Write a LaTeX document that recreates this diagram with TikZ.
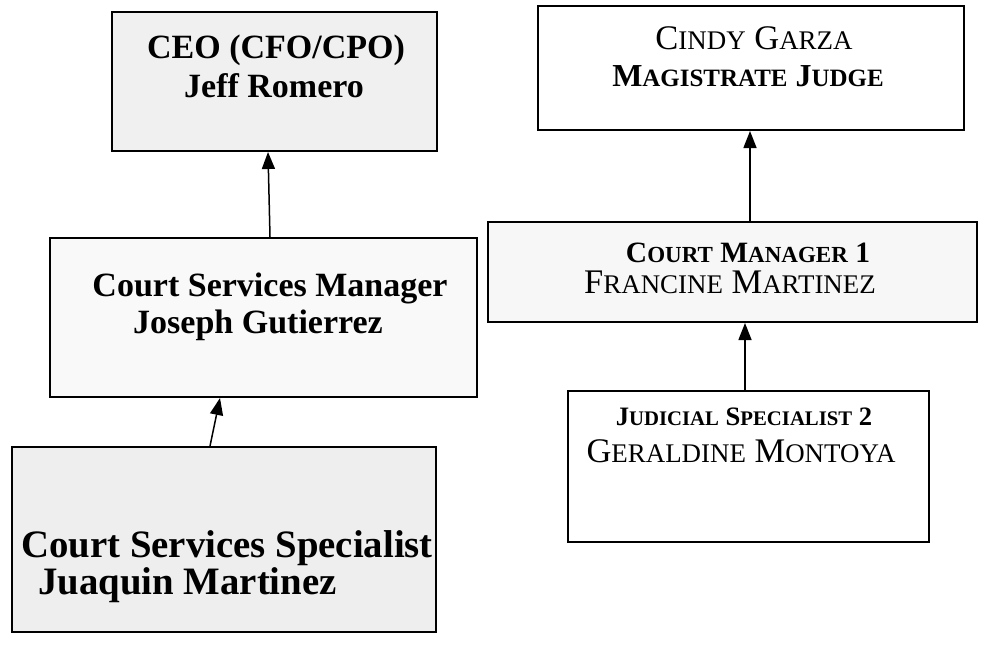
\documentclass[tikz,border=0pt]{standalone}
\usepackage{fontspec}
\setmainfont{Liberation Serif}
\usetikzlibrary{arrows.meta,calc}
\makeatletter
\newcommand\lc[1]{{\fontsize{\the\dimexpr 0.78\dimexpr\f@size pt\relax\relax}{\f@baselineskip}\selectfont #1}}
\makeatother
\tikzset{
  box/.style={draw=black, line width=2pt, rectangle, inner sep=0pt},
  ltxt/.style={anchor=base, inner sep=0pt, font=\fontsize{34}{38}\selectfont\bfseries},
  lbig/.style={anchor=base west, inner sep=0pt, font=\fontsize{38.8}{40}\selectfont\bfseries},
  rtxt/.style={anchor=base, inner sep=0pt, font=\fontsize{34.5}{38}\selectfont},
  rbold/.style={anchor=base, inner sep=0pt, font=\fontsize{32}{38}\selectfont\bfseries},
  rsmall/.style={anchor=base, inner sep=0pt, font=\fontsize{29.5}{38}\selectfont\bfseries},
  rsmaller/.style={anchor=base, inner sep=0pt, font=\fontsize{26.6}{38}\selectfont\bfseries},
  link/.style={line width=1.5pt, -{Triangle[length=17pt,width=13pt]}}
}
\begin{document}
\begin{tikzpicture}[x=1pt,y=-1pt]
\useasboundingbox (0,0) rectangle (984,649);
% left column
\node[box, fill=gray!12, minimum width=325pt, minimum height=139pt] (ceo) at (274.5,81.5) {};
\node[ltxt] (ceo1) at (276,58) {CEO (CFO/CPO)};
\node[ltxt] (ceo2) at (274,97) {Jeff Romero};
\node[box, fill=gray!5, minimum width=427pt, minimum height=159pt] (csm) at (263.5,317.5) {};
\node[ltxt] (csm1) at (270,296) {Court Services Manager};
\node[ltxt] (csm2) at (258,333) {Joseph Gutierrez};
\node[box, fill=gray!13, minimum width=424pt, minimum height=185pt] (css) at (224,539.5) {};
\node[lbig] (css1) at (21,557) {Court Services Specialist};
\node[lbig] (css2) at (38,594) {Juaquin Martinez};
% right column
\node[box, fill=white, minimum width=426pt, minimum height=124pt] (mj) at (751,68) {};
\node[rtxt] (mj1) at (754,49) {C\lc{INDY} G\lc{ARZA}};
\node[rbold] (mj2) at (748,86) {M\lc{AGISTRATE} J\lc{UDGE}};
\node[box, fill=gray!6, minimum width=489pt, minimum height=100pt] (cm) at (732.5,272) {};
\node[rsmall] (cm1) at (748,262) {C\lc{OURT} M\lc{ANAGER} 1};
\node[rtxt] (cm2) at (730,293) {F\lc{RANCINE} M\lc{ARTINEZ}};
\node[box, fill=white, minimum width=361pt, minimum height=151pt] (js) at (748.5,466.5) {};
\node[rsmaller] (js1) at (744,425) {J\lc{UDICIAL} S\lc{PECIALIST} 2};
\node[rtxt] (js2) at (741,462) {G\lc{ERALDINE} M\lc{ONTOYA}};
% connectors
\draw[link] ($(csm.north)+(6.5,0)$) -- ($(ceo.south)+(-6.5,0)$);
\draw[link] ($(css.north)+(-14,0)$) -- ($(csm.south)+(-43.5,0)$);
\draw[link] ($(cm.north)+(17.5,0)$) -- ($(mj.south)+(-1,0)$);
\draw[link] ($(js.north)+(-3.5,0)$) -- ($(cm.south)+(12.5,0)$);
\end{tikzpicture}
\end{document}
